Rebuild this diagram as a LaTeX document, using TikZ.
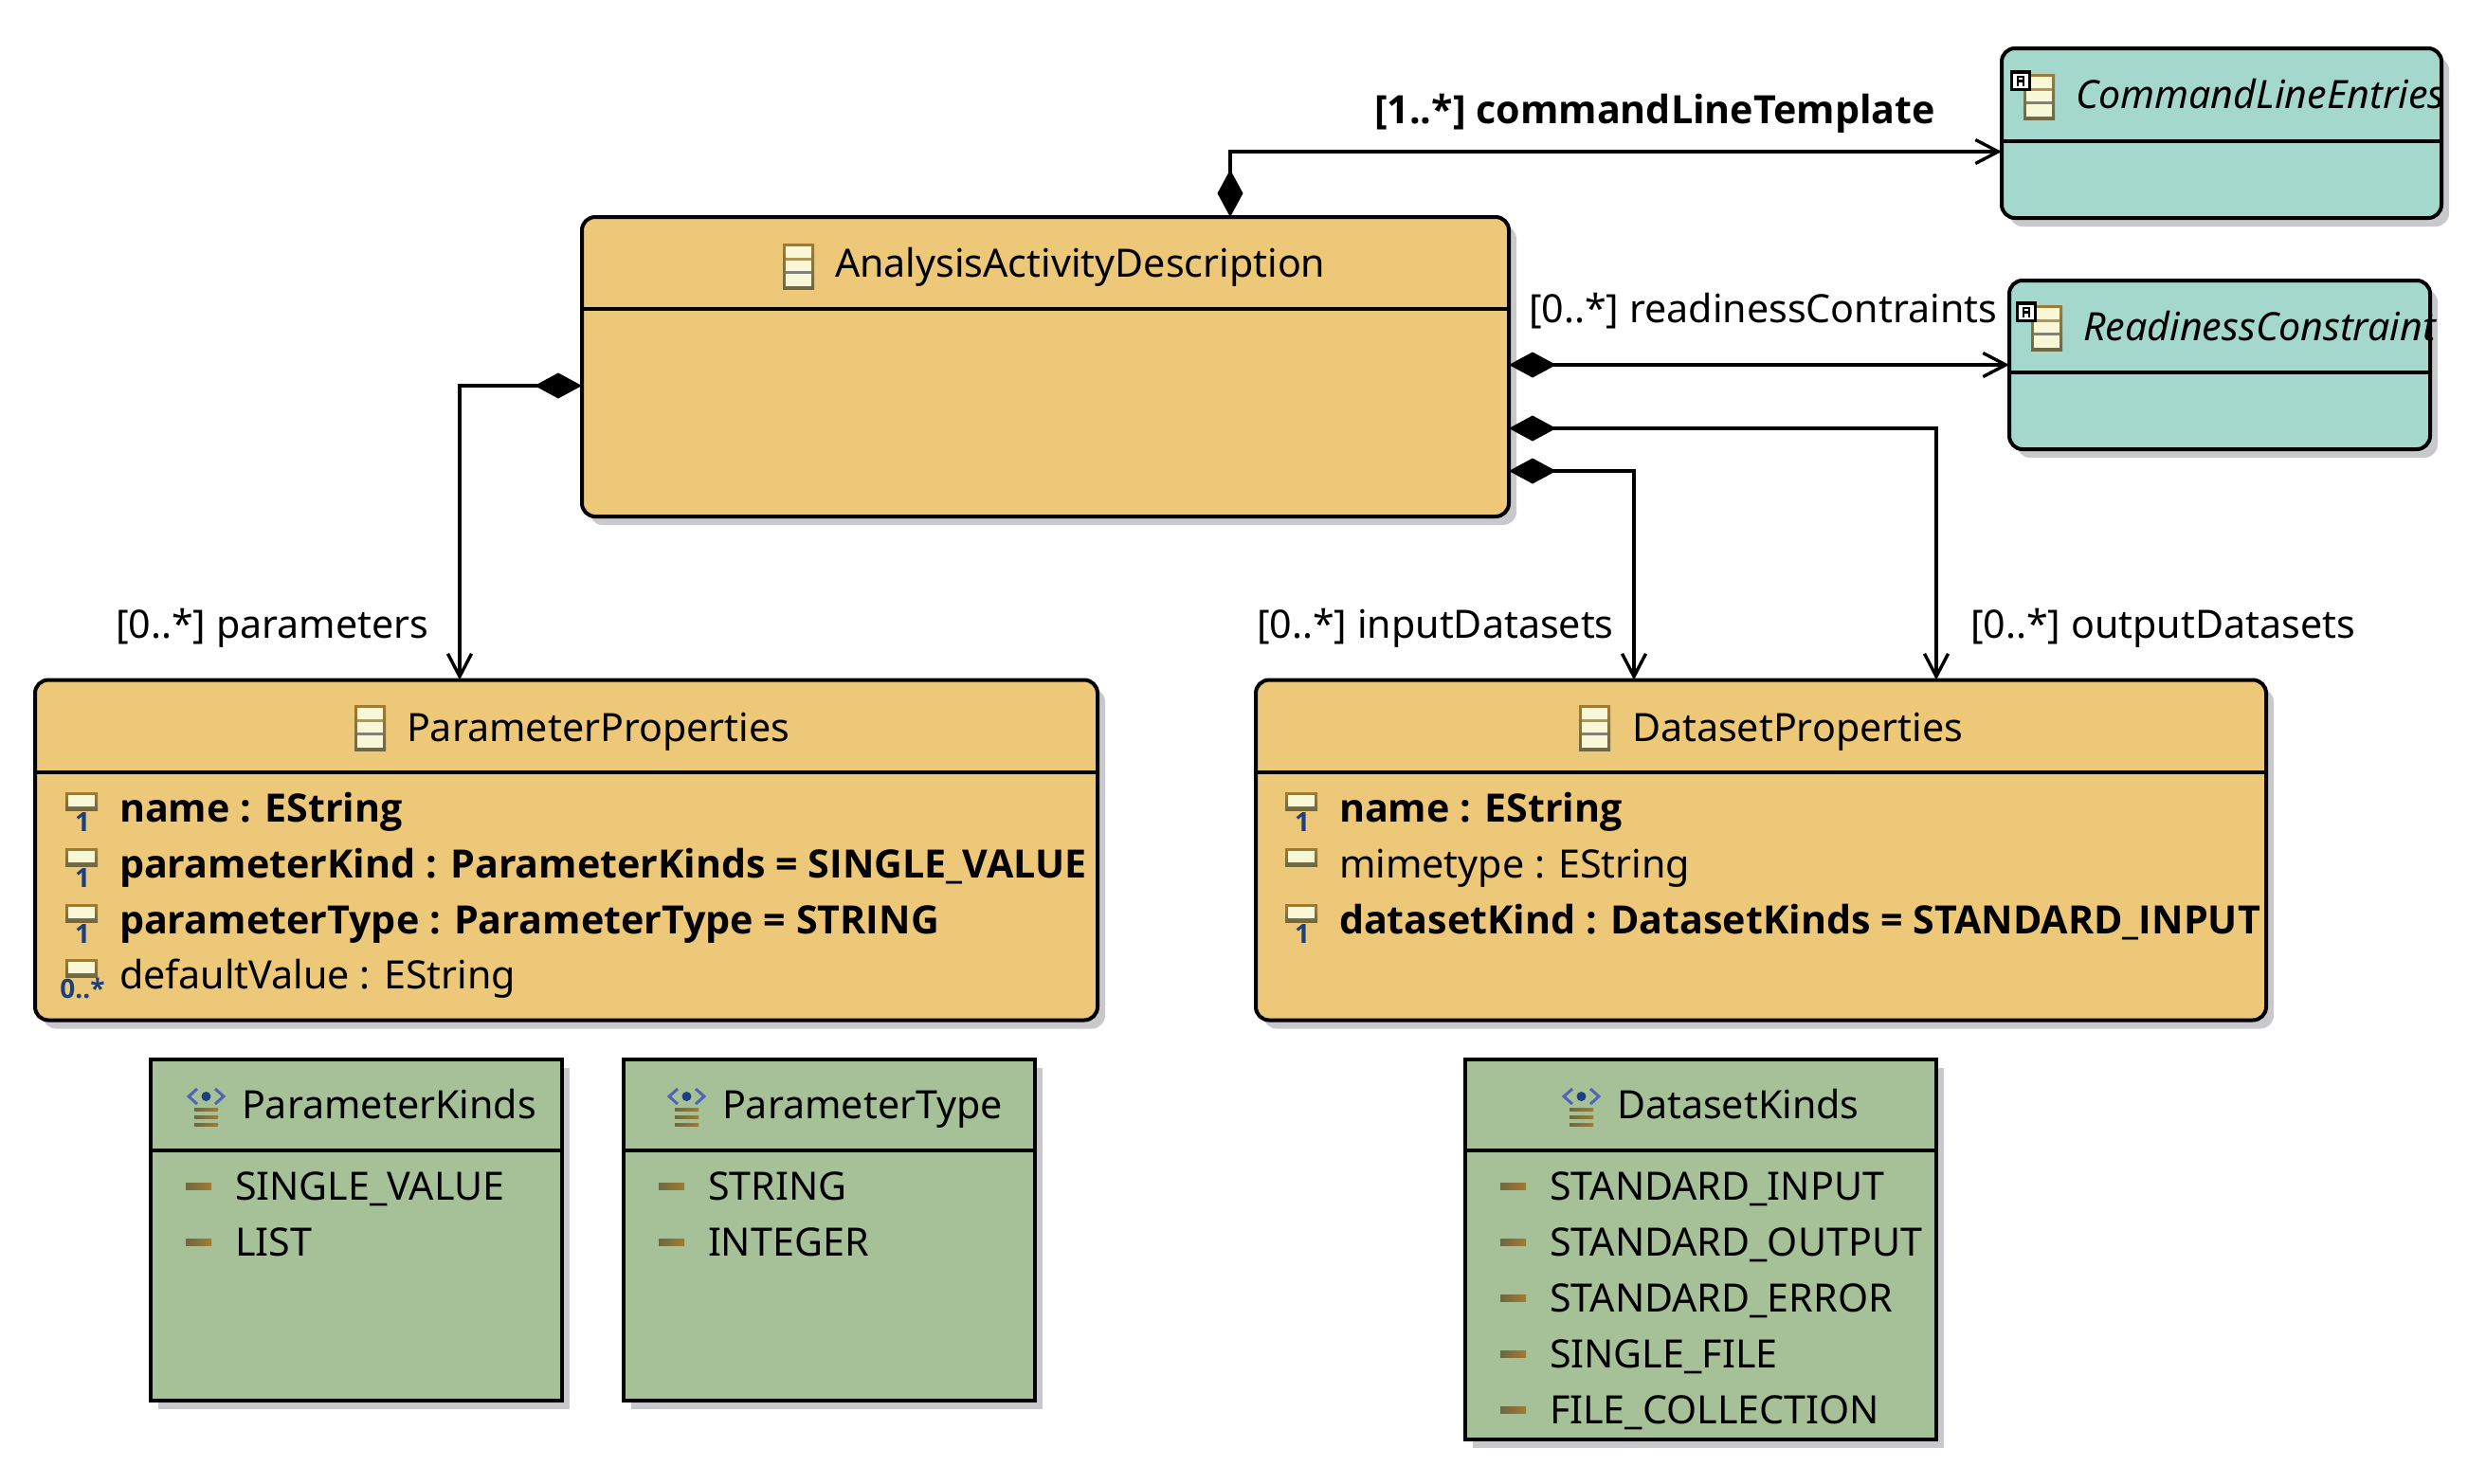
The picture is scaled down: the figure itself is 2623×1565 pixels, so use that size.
\documentclass[tikz,border=0pt]{standalone}
\usepackage{fontspec}
\setmainfont{Noto Sans}[BoldFont={Open Sans Bold}]
\usetikzlibrary{arrows.meta,shadows}

\definecolor{classfill}{HTML}{ECC878}
\definecolor{abstractfill}{HTML}{A5D8CC}
\definecolor{enumfill}{HTML}{A6C098}
\definecolor{shadowgrey}{HTML}{C9C8CC}
\definecolor{iconfill}{HTML}{F8F8D8}
\definecolor{icontop}{HTML}{A07C30}
\definecolor{iconbottom}{HTML}{6E6844}
\definecolor{multblue}{HTML}{1C3F7F}
\definecolor{enumblue}{HTML}{5464B4}

\tikzset{
	umlbox/.style={draw=black, line width=2pt, anchor=north west, outer sep=0pt, inner sep=0pt,
		drop shadow={shadow xshift=4pt, shadow yshift=-4.5pt, fill=shadowgrey, opacity=1}},
	classbox/.style={umlbox, rounded corners=7pt, fill=classfill},
	abstractbox/.style={umlbox, rounded corners=7pt, fill=abstractfill},
	enumbox/.style={umlbox, fill=enumfill},
	boxrule/.style={line width=1.8pt},
	label/.style={anchor=base west, inner sep=0pt, outer sep=0pt, font=\fontsize{20.6}{24}\selectfont},
	mult/.style={anchor=base, inner sep=0pt, text=multblue, font=\fontsize{14}{15}\selectfont\bfseries},
	comp/.style={line width=1.7pt, {Diamond[length=25pt,width=13.5pt,sep=0pt]}-{Straight Barb[length=12pt,width=12.5pt]}}
}

% icons, all sizes in picture pixels
\newcommand{\classicon}[2]{
	\fill[top color=icontop, bottom color=iconbottom] (#1,#2) rectangle ++(33,48);
	\fill[iconfill] (#1+3,#2+3) rectangle ++(27,42);
	\fill[icontop!80!iconfill] (#1+3,#2+15) rectangle ++(27,3);
	\fill[gray] (#1+3,#2+29) rectangle ++(27,3);
}
\newcommand{\abstractmark}[2]{
	\fill[black] (#1,#2) rectangle ++(22,22);
	\fill[white] (#1+3,#2+4) rectangle ++(16,15);
	\fill[black] (#1+7,#2+6) rectangle ++(8,11);
	\fill[white] (#1+9,#2+8) rectangle ++(4,2);
	\fill[white] (#1+9,#2+13) rectangle ++(4,4);
}
\newcommand{\enumicon}[2]{
	\draw[enumblue, line width=1.5pt] (#1+11,#2+1) -- (#1+2,#2+9) -- (#1+11,#2+17);
	\draw[enumblue, line width=1.5pt] (#1+30,#2+1) -- (#1+39,#2+9) -- (#1+30,#2+17);
	\fill[multblue] (#1+20.5,#2+9) circle(5);
	\foreach \bar in {21,29,37}
		\fill[left color=iconbottom, right color=icontop] (#1+8,#2+\bar) rectangle ++(25,3);
}
% name, x, baseline, font, multiplicity, text
\newcommand{\attrrow}[6]{
	\fill[top color=icontop, bottom color=iconbottom] (#2-57,#3-29) rectangle ++(34,19);
	\fill[iconfill] (#2-54,#3-26) rectangle ++(28,12);
	\node[mult] (#1-mult) at (#2-39,#3+12) {#5};
	\node[label] (#1) at (#2,#3+2) {#4#6};
}
\newcommand{\litrow}[4]{
	\fill[left color=iconbottom, right color=icontop] (#2-52,#3-16) rectangle ++(27,7);
	\node[label] (#1) at (#2,#3+2) {#4};
}

\begin{document}
\begin{tikzpicture}[x=0.5pt,y=-0.5pt]
	\useasboundingbox (0,0) rectangle (2623,1565);

	\node[classbox, minimum width=489pt, minimum height=158pt] (analysis) at (614,229) {};
	\node[abstractbox, minimum width=232pt, minimum height=89.5pt] (cmdline) at (2112,51) {};
	\node[abstractbox, minimum width=222pt, minimum height=89pt] (readiness) at (2120,296) {};
	\node[classbox, minimum width=560.5pt, minimum height=179.5pt] (paramprops) at (37,717.5) {};
	\node[classbox, minimum width=533pt, minimum height=179.5pt] (dataprops) at (1325,717.5) {};
	\node[enumbox, minimum width=217pt, minimum height=180pt] (paramkinds) at (159,1117.5) {};
	\node[enumbox, minimum width=217pt, minimum height=180pt] (paramtype) at (658,1117.5) {};
	\node[enumbox, minimum width=248.5pt, minimum height=200.5pt] (datakinds) at (1546,1117.5) {};

	\draw[boxrule] (analysis.west |- 0,326) -- (analysis.east |- 0,326);
	\draw[boxrule] (cmdline.west |- 0,149) -- (cmdline.east |- 0,149);
	\draw[boxrule] (readiness.west |- 0,393) -- (readiness.east |- 0,393);
	\draw[boxrule] (paramprops.west |- 0,815) -- (paramprops.east |- 0,815);
	\draw[boxrule] (dataprops.west |- 0,815) -- (dataprops.east |- 0,815);
	\draw[boxrule] (paramkinds.west |- 0,1214) -- (paramkinds.east |- 0,1214);
	\draw[boxrule] (paramtype.west |- 0,1214) -- (paramtype.east |- 0,1214);
	\draw[boxrule] (datakinds.west |- 0,1214) -- (datakinds.east |- 0,1214);

	% titles
	\classicon{826}{257}
	\node[label] (analysis-title) at (881,292) {AnalysisActivityDescription};
	\classicon{2135}{78}
	\abstractmark{2121}{74}
	\node[label] (cmdline-title) at (2190,114) {\itshape CommandLineEntries};
	\classicon{2143}{322}
	\abstractmark{2127}{318}
	\node[label] (readiness-title) at (2198,359) {\itshape ReadinessConstraint};
	\classicon{374}{744}
	\node[label] (paramprops-title) at (429,782) {ParameterProperties};
	\classicon{1666}{744}
	\node[label] (dataprops-title) at (1722,782) {DatasetProperties};
	\enumicon{197}{1148}
	\node[label] (paramkinds-title) at (255,1180) {ParameterKinds};
	\enumicon{704}{1148}
	\node[label] (paramtype-title) at (762,1180) {ParameterType};
	\enumicon{1648}{1148}
	\node[label] (datakinds-title) at (1706,1180) {DatasetKinds};

	% attributes
	\attrrow{pname}{126}{865}{\bfseries}{1}{name : EString}
	\attrrow{pkind}{126}{924}{\bfseries}{1}{parameterKind : ParameterKinds = SINGLE\_VALUE}
	\attrrow{ptype}{126}{983}{\bfseries}{1}{parameterType : ParameterType = STRING}
	\attrrow{pdefault}{126}{1041}{}{0..*}{defaultValue : EString}
	\attrrow{dname}{1413}{865}{\bfseries}{1}{name : EString}
	\attrrow{dmime}{1413}{924}{}{}{mimetype : EString}
	\attrrow{dkind}{1413}{983}{\bfseries}{1}{datasetKind : DatasetKinds = STANDARD\_INPUT}

	% literals
	\litrow{kvalue}{248}{1264}{SINGLE\_VALUE}
	\litrow{klist}{248}{1323}{LIST}
	\litrow{tstring}{747}{1264}{STRING}
	\litrow{tinteger}{747}{1323}{INTEGER}
	\foreach \lit [count=\i from 0] in {STANDARD\_INPUT,STANDARD\_OUTPUT,STANDARD\_ERROR,SINGLE\_FILE,FILE\_COLLECTION}
		\litrow{dlit\i}{1635}{1264+59*\i}{\lit};

	% connectors
	\coordinate (cmdbend) at (1298,160);
	\coordinate (parambend) at (485,407);
	\coordinate (outbend) at (2043,452);
	\coordinate (inbend) at (1724,497);
	\draw[comp] (analysis.north -| cmdbend) -- (cmdbend) -- (cmdline.west |- cmdbend);
	\draw[comp] (analysis.east |- 0,385) -- (readiness.west |- 0,385);
	\draw[comp] (analysis.east |- outbend) -- (outbend) -- (dataprops.north -| outbend);
	\draw[comp] (analysis.east |- inbend) -- (inbend) -- (dataprops.north -| inbend);
	\draw[comp] (analysis.west |- parambend) -- (parambend) -- (paramprops.north -| parambend);

	\node[label] (cmdline-label) at (1450,130) {\bfseries [1..*] commandLineTemplate};
	\node[label] (readiness-label) at (1613,340) {[0..*] readinessContraints};
	\node[label] (param-label) at (122,673) {[0..*] parameters};
	\node[label] (input-label) at (1326,673) {[0..*] inputDatasets};
	\node[label] (output-label) at (2079,673) {[0..*] outputDatasets};
\end{tikzpicture}
\end{document}
